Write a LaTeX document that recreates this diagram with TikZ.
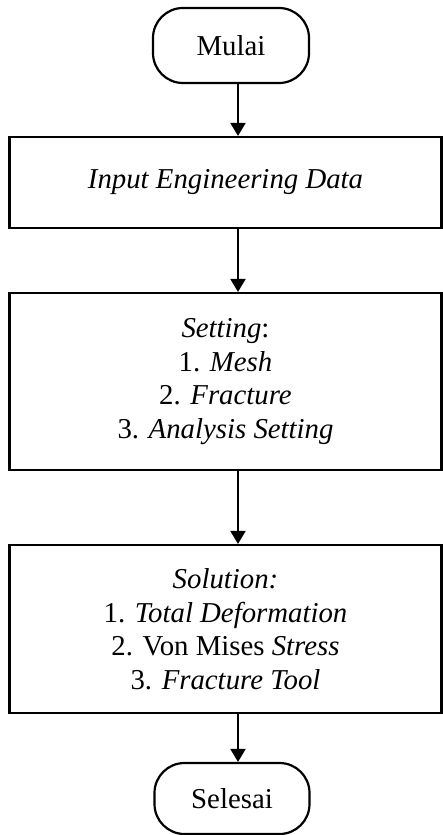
\documentclass[tikz,border=0pt]{standalone}
\usepackage{fontspec}
\setmainfont{Liberation Serif}
\usetikzlibrary{arrows.meta}

\begin{document}
\begin{tikzpicture}[x=1pt,y=-1pt,
  terminal/.style={draw=black,line width=2.2pt,rounded corners=30pt,minimum width=156pt,minimum height=75pt,inner sep=0pt,font=\fontsize{28.8}{33.5}\selectfont},
  process/.style={draw=black,line width=2.2pt,minimum width=432pt,inner sep=0pt,align=center,font=\fontsize{28.8}{33.5}\selectfont},
  flow/.style={line width=2.2pt,-{Triangle[length=13pt,width=15pt]}}]
\useasboundingbox (0,0) rectangle (443,835);
%terminals and steps
\node[terminal] (mulai) at (231,45.5) {Mulai};
\node[process,minimum height=91pt] (input) at (225.5,182.5) {\textit{Input Engineering Data}};
\node[process,minimum height=177pt] (setting) at (225.5,381.5) {\textit{Setting}:\\1. \textit{Mesh}\\2. \textit{Fracture}\\3. \textit{Analysis Setting}};
\node[process,minimum height=168pt] (solution) at (225.5,629) {\textit{Solution:}\\1. \textit{Total Deformation}\\2. Von Mises \textit{Stress}\\3. \textit{Fracture Tool}};
\node[terminal,minimum width=155pt,minimum height=71pt] (selesai) at (232,798.5) {Selesai};
%arrows
\coordinate (ax) at (238,0);
\draw[flow] (mulai.south -| ax) -- (input.north -| ax);
\draw[flow] (input.south -| ax) -- (setting.north -| ax);
\draw[flow] (setting.south -| ax) -- (solution.north -| ax);
\draw[flow] (solution.south -| ax) -- (selesai.north -| ax);
\end{tikzpicture}
\end{document}
